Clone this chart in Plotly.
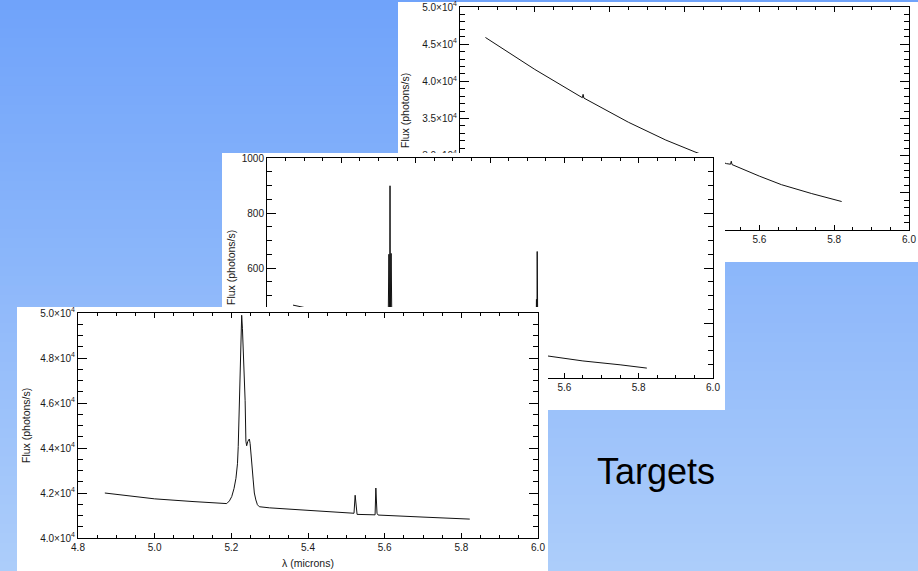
import plotly.graph_objects as go

# ---------------- data ----------------
# Panel A (back, top-right): smooth continuum in photons/s
a_wave = [4.868, 5.0, 5.127, 5.129, 5.131, 5.25, 5.35, 5.428, 5.512, 5.523, 5.525, 5.527, 5.6, 5.659, 5.74, 5.82]
a_flux = [45900, 41600, 37800, 38250, 37750, 34500, 32100, 30500, 28930, 28850, 29250, 28800, 27250, 26100, 24900, 23830]

# Panel B (middle): faint continuum with two narrow spikes
b_wave = [4.870, 5.0, 5.126, 5.128, 5.130, 5.131, 5.132, 5.134, 5.136, 5.25, 5.4, 5.5,
          5.523, 5.525, 5.526, 5.527, 5.529, 5.556, 5.65, 5.75, 5.822]
b_flux = [465, 428, 396, 650, 400, 899, 420, 653, 394, 364, 322, 294,
          288, 486, 300, 660, 287, 280, 262, 248, 236]

# Panel C (front, bottom-left): continuum with strong emission feature
c_wave = [4.870, 5.000, 5.100, 5.180, 5.188, 5.195, 5.201, 5.207, 5.212, 5.216, 5.218, 5.221,
          5.223, 5.225, 5.227, 5.229, 5.231, 5.234, 5.236, 5.238, 5.240, 5.243, 5.247, 5.249,
          5.251, 5.254, 5.257, 5.260, 5.264, 5.268, 5.273, 5.300, 5.400, 5.520, 5.523, 5.526,
          5.528, 5.575, 5.577, 5.580, 5.583, 5.700, 5.822]
c_flux = [42000, 41740, 41620, 41520, 41530, 41650, 41840, 42200, 42650, 43300, 44060, 46000,
          47600, 49000, 49900, 49300, 48500, 47000, 46100, 44300, 44100, 44300, 44400, 44200,
          43900, 43200, 42580, 42000, 41690, 41480, 41390, 41340, 41230, 41100, 41900, 41150,
          41050, 41030, 42220, 41100, 41020, 40930, 40840]

x_ticks = [4.8, 5.0, 5.2, 5.4, 5.6, 5.8, 6.0]
x_tick_text = ["4.8", "5.0", "5.2", "5.4", "5.6", "5.8", "6.0"]
a_yticks = [20000, 25000, 30000, 35000, 40000, 45000, 50000]
a_ytext = ["2.0×10<sup>4</sup>", "2.5×10<sup>4</sup>", "3.0×10<sup>4</sup>", "3.5×10<sup>4</sup>",
           "4.0×10<sup>4</sup>", "4.5×10<sup>4</sup>", "5.0×10<sup>4</sup>"]
b_yticks = [200, 400, 600, 800, 1000]
b_ytext = ["200", "400", "600", "800", "1000"]
c_yticks = [40000, 42000, 44000, 46000, 48000, 50000]
c_ytext = ["4.0×10<sup>4</sup>", "4.2×10<sup>4</sup>", "4.4×10<sup>4</sup>",
           "4.6×10<sup>4</sup>", "4.8×10<sup>4</sup>", "5.0×10<sup>4</sup>"]

y_title = "Flux (photons/s)"
x_title = "λ (microns)"
side_text = "Targets"

# ---------------- layout geometry (pixels) ----------------
W, H = 918, 571
A_card = (398, 2, 918, 262)
A_plot = (460, 7, 909, 230)
B_card = (222, 153, 725, 410)
B_plot = (267, 158, 713, 378)
C_card = (17, 307, 548, 571)
C_plot = (78, 313, 538, 538)


def xdom(r):
    return [r[0] / W, r[2] / W]


def ydom(r):
    return [1 - r[3] / H, 1 - r[1] / H]


FONT = "Liberation Sans, Arial, Helvetica, sans-serif"
tickfont = dict(family=FONT, size=10, color="#1a1a1a")


def x_axis(dom, anchor):
    return dict(domain=dom, anchor=anchor, range=[4.8, 6.0], autorange=False, automargin=False,
                tickmode="array", tickvals=x_ticks, ticktext=x_tick_text,
                ticks="inside", ticklen=5, tickwidth=1, tickcolor="black",
                showline=True, linecolor="black", linewidth=1, mirror="allticks",
                showgrid=False, zeroline=False, tickfont=tickfont, fixedrange=True,
                minor=dict(ticks="inside", ticklen=3, tickwidth=1, tickcolor="black",
                           tickmode="linear", tick0=4.8, dtick=0.05, showgrid=False))


def y_axis(dom, anchor, rng, vals, text, mdt):
    return dict(domain=dom, anchor=anchor, range=rng, autorange=False, automargin=False,
                tickmode="array", tickvals=vals, ticktext=text,
                ticks="inside", ticklen=9, tickwidth=1, tickcolor="black",
                showline=True, linecolor="black", linewidth=1, mirror="allticks",
                showgrid=False, zeroline=False, tickfont=tickfont, fixedrange=True,
                minor=dict(ticks="inside", ticklen=5, tickwidth=1, tickcolor="black",
                           tickmode="linear", tick0=rng[0], dtick=mdt, showgrid=False))


def hidden_axis(dom, anchor):
    return dict(domain=dom, anchor=anchor, range=[0, 1], autorange=False, automargin=False,
                visible=False, fixedrange=True)


line = dict(color="#111111", width=1)
fig = go.Figure()
fig.add_trace(go.Scatter(x=a_wave, y=a_flux, mode="lines", line=line, xaxis="x", yaxis="y",
                         hoverinfo="skip"))
fig.add_trace(go.Scatter(x=[], y=[], mode="lines", xaxis="x2", yaxis="y2", hoverinfo="skip"))
fig.add_trace(go.Scatter(x=b_wave, y=b_flux, mode="lines", line=line, xaxis="x3", yaxis="y3",
                         hoverinfo="skip"))
fig.add_trace(go.Scatter(x=[], y=[], mode="lines", xaxis="x4", yaxis="y4", hoverinfo="skip"))
fig.add_trace(go.Scatter(x=c_wave, y=c_flux, mode="lines", line=line, xaxis="x5", yaxis="y5",
                         hoverinfo="skip"))

# background gradient bands
top_c = (112, 163, 250)
bot_c = (172, 205, 250)
shapes = []
n = 60
for i in range(n):
    t = i / (n - 1)
    c = tuple(round(top_c[k] + (bot_c[k] - top_c[k]) * t) for k in range(3))
    shapes.append(dict(type="rect", xref="paper", yref="paper", x0=0, x1=1,
                       y0=1 - (i + 1) / n - 0.002, y1=1 - i / n,
                       fillcolor="rgb(%d,%d,%d)" % c, line=dict(width=0), layer="below"))
# card backgrounds (layered)
shapes.append(dict(type="rect", xref="paper", yref="paper", x0=A_card[0] / W, x1=1.01,
                   y0=1 - A_card[3] / H, y1=1 - A_card[1] / H,
                   fillcolor="white", line=dict(width=0), layer="below"))
shapes.append(dict(type="rect", xref="x2", yref="y2", x0=0, x1=1, y0=0, y1=1,
                   fillcolor="white", line=dict(width=0), layer="below"))
shapes.append(dict(type="rect", xref="x4", yref="y4", x0=0, x1=1, y0=0, y1=1,
                   fillcolor="white", line=dict(width=0), layer="below"))

title_font = dict(family=FONT, size=10.5, color="#1a1a1a")
annotations = [
    dict(text=y_title, xref="paper", yref="paper", x=405 / W, y=1 - 111 / H, textangle=-90,
         showarrow=False, font=title_font, xanchor="center", yanchor="middle"),
    dict(text=y_title, xref="paper", yref="paper", x=231 / W, y=1 - 268 / H, textangle=-90,
         showarrow=False, font=title_font, xanchor="center", yanchor="middle"),
    dict(text=y_title, xref="paper", yref="paper", x=26 / W, y=1 - 426 / H, textangle=-90,
         showarrow=False, font=title_font, xanchor="center", yanchor="middle"),
    dict(text=x_title, xref="paper", yref="paper", x=308 / W, y=1 - 563 / H,
         showarrow=False, font=title_font, xanchor="center", yanchor="middle"),
    dict(text=side_text, xref="paper", yref="paper", x=656 / W, y=1 - 471 / H,
         showarrow=False, font=dict(family=FONT, size=36, color="black"),
         xanchor="center", yanchor="middle"),
]

fig.update_layout(
    width=W, height=H, margin=dict(l=0, r=0, t=0, b=0, pad=0, autoexpand=False),
    paper_bgcolor="rgb(140,183,250)", plot_bgcolor="rgba(0,0,0,0)",
    showlegend=False, hovermode=False,
    shapes=shapes, annotations=annotations,
    xaxis=x_axis(xdom(A_plot), "y"),
    yaxis=y_axis(ydom(A_plot), "x", [20000, 50000], a_yticks, a_ytext, 1000),
    xaxis2=hidden_axis(xdom(B_card), "y2"),
    yaxis2=hidden_axis(ydom(B_card), "x2"),
    xaxis3=x_axis(xdom(B_plot), "y3"),
    yaxis3=y_axis(ydom(B_plot), "x3", [200, 1000], b_yticks, b_ytext, 50),
    xaxis4=hidden_axis(xdom(C_card), "y4"),
    yaxis4=hidden_axis(ydom(C_card), "x4"),
    xaxis5=x_axis(xdom(C_plot), "y5"),
    yaxis5=y_axis(ydom(C_plot), "x5", [40000, 50000], c_yticks, c_ytext, 500),
)

fig.write_html("out.html", config={"displayModeBar": False, "staticPlot": True})
